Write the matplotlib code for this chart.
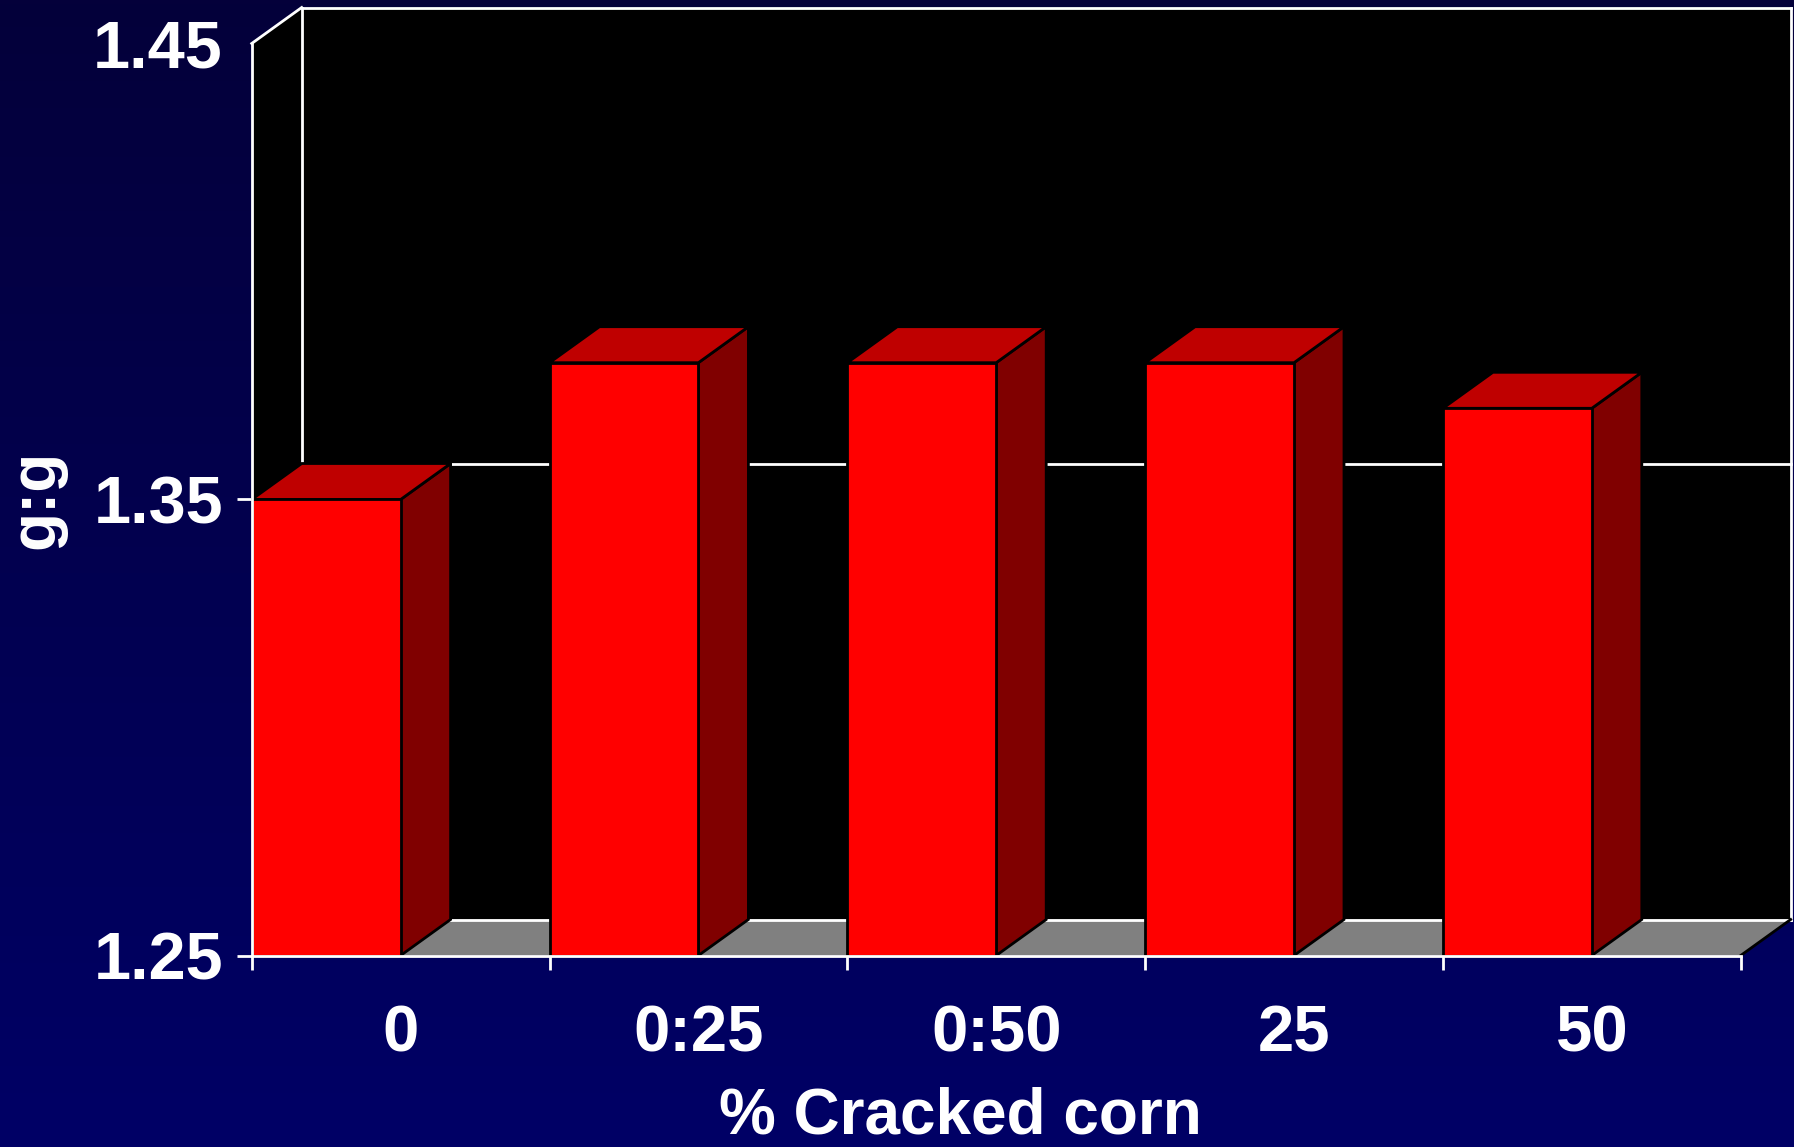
import numpy as np
import matplotlib
matplotlib.use("Agg")
import matplotlib.pyplot as plt
from matplotlib.patches import Polygon, Rectangle

# Feed efficiency (g:g) by cracked-corn treatment
categories = ["0", "0:25", "0:50", "25", "50"]
ratio = [1.35, 1.38, 1.38, 1.38, 1.37]
y_ticks = [1.25, 1.35, 1.45]
y_tick_labels = ["1.25", "1.35", "1.45"]
grid_value = 1.35

plt.rcParams["font.family"] = ["Liberation Sans", "DejaVu Sans"]
plt.rcParams["font.weight"] = "bold"

W, H = 1794, 1147
fig = plt.figure(figsize=(W / 100, H / 100), dpi=100)

# navy vertical gradient background
bg = fig.add_axes([0, 0, 1, 1], zorder=-10)
t = np.linspace(0, 1, 256)[:, None, None]
c_top = np.array([4, 0, 58]) / 255
c_bot = np.array([0, 0, 102]) / 255
bg.imshow(c_top + (c_bot - c_top) * t, aspect="auto", extent=[0, 1, 0, 1], origin="upper")
bg.axis("off")

# front plane of the 3-D box (pixels)
x0, x1 = 251.7, 1740.7
y_lo, y_hi = 955.5, 43.5
ax = fig.add_axes([x0 / W, 1 - y_lo / H, (x1 - x0) / W, (y_lo - y_hi) / H])
n = len(categories)
base, top = y_ticks[0], y_ticks[-1]
ax.set_xlim(0, n)
ax.set_ylim(base, top)
ax.patch.set_visible(False)

# depth offset of the box, in data units
DX = 50 / (x1 - x0) * n
DY = 36 / (y_lo - y_hi) * (top - base)

WL = 2.0   # white frame line width
EL = 2.0   # black bar edge width

def poly(pts, fc, ec="none", lw=0, z=0.2):
    ax.add_patch(Polygon(pts, closed=True, facecolor=fc, edgecolor=ec, linewidth=lw,
                         joinstyle="miter", clip_on=False, zorder=z))

def line(xs, ys, color="white", lw=WL, z=0.3):
    ax.plot(xs, ys, color=color, lw=lw, clip_on=False, zorder=z, solid_capstyle="projecting")

# walls and floor
poly([(DX, base + DY), (n + DX, base + DY), (n + DX, top + DY), (DX, top + DY)], "black")
poly([(0, base), (DX, base + DY), (DX, top + DY), (0, top)], "black")
poly([(0, base), (n, base), (n + DX, base + DY), (DX, base + DY)], "#808080")

line([DX, n + DX], [grid_value + DY] * 2)
line([DX, n + DX], [base + DY] * 2)
line([DX, n + DX], [top + DY] * 2)
line([DX, DX], [base + DY, top + DY])
line([n + DX, n + DX], [base + DY, top + DY])
line([0, DX], [top, top + DY])
line([n, n + DX], [base, base + DY], color="black", lw=EL)

# 3-D bars
bw = 0.5
for i, v in enumerate(ratio):
    xl, xr = i, i + bw
    poly([(xr, base), (xr + DX, base + DY), (xr + DX, v + DY), (xr, v)],
         "#800000", ec="black", lw=EL, z=1.9)
    poly([(xl, v), (xr, v), (xr + DX, v + DY), (xl + DX, v + DY)],
         "#BF0000", ec="black", lw=EL, z=1.9)
    ax.add_patch(Rectangle((xl, base), bw, v - base, facecolor="#FF0000",
                           edgecolor="black", linewidth=EL, joinstyle="miter", zorder=2))

# axes lines
for s in ("top", "right"):
    ax.spines[s].set_visible(False)
for s in ("left", "bottom"):
    ax.spines[s].set_color("white")
    ax.spines[s].set_linewidth(WL)

ax.set_yticks(y_ticks, y_tick_labels)
ax.tick_params(axis="y", colors="white", length=10.8, width=WL, pad=9.9, labelsize=48)
ax.yaxis.get_major_ticks()[-1].tick1line.set_visible(False)

ax.set_xticks(np.arange(n + 1))
ax.set_xticks(np.arange(n) + 0.5, categories, minor=True)
ax.tick_params(axis="x", which="major", colors="white", length=10, width=WL, labelbottom=False)
ax.tick_params(axis="x", which="minor", length=0, pad=35.3, labelsize=47, labelcolor="white")

fig.text(66.5 / W, 1 - 499.5 / H, "g:g", rotation=90, ha="right", va="center",
         fontsize=46, color="white", fontweight="bold")
fig.text(960 / W, 1 / H, "% Cracked corn", ha="center", va="bottom",
         fontsize=46, color="white", fontweight="bold")

fig.savefig("out.png", dpi=100)
